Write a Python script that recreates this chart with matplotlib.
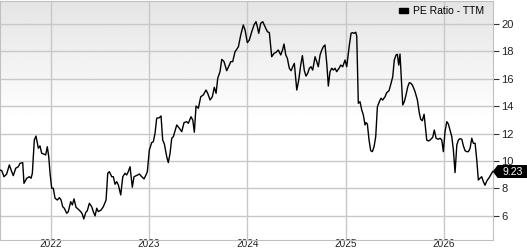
import matplotlib
matplotlib.use("Agg")
import matplotlib.pyplot as plt
import numpy as np
from matplotlib.patches import Patch, Polygon

plt.rcParams['font.family'] = ['Liberation Sans', 'DejaVu Sans']

# decimal year of each reading and the trailing PE ratio
years = [
    2021.484, 2021.502, 2021.525, 2021.552, 2021.579, 2021.603, 2021.619, 2021.644, 2021.670, 2021.688,
    2021.715, 2021.728, 2021.756, 2021.782, 2021.800, 2021.813, 2021.833, 2021.850, 2021.874, 2021.891,
    2021.908, 2021.935, 2021.949, 2021.965, 2021.980, 2021.993, 2022.010, 2022.026, 2022.044, 2022.067,
    2022.088, 2022.105, 2022.122, 2022.138, 2022.163, 2022.179, 2022.203, 2022.220, 2022.237, 2022.257,
    2022.281, 2022.305, 2022.321, 2022.336, 2022.356, 2022.372, 2022.393, 2022.417, 2022.433, 2022.451,
    2022.468, 2022.484, 2022.512, 2022.535, 2022.563, 2022.580, 2022.596, 2022.621, 2022.637, 2022.654,
    2022.671, 2022.688, 2022.712, 2022.733, 2022.756, 2022.773, 2022.789, 2022.807, 2022.830, 2022.847,
    2022.865, 2022.885, 2022.901, 2022.926, 2022.949, 2022.969, 2022.983, 2023.003, 2023.027, 2023.044,
    2023.061, 2023.078, 2023.105, 2023.122, 2023.139, 2023.156, 2023.180, 2023.196, 2023.214, 2023.231,
    2023.247, 2023.282, 2023.308, 2023.333, 2023.356, 2023.383, 2023.400, 2023.427, 2023.445, 2023.461,
    2023.478, 2023.502, 2023.526, 2023.552, 2023.580, 2023.597, 2023.621, 2023.644, 2023.664, 2023.682,
    2023.699, 2023.722, 2023.740, 2023.763, 2023.790, 2023.817, 2023.831, 2023.851, 2023.875, 2023.892,
    2023.909, 2023.933, 2023.959, 2023.977, 2024.000, 2024.020, 2024.045, 2024.068, 2024.088, 2024.102,
    2024.116, 2024.136, 2024.157, 2024.180, 2024.204, 2024.224, 2024.248, 2024.272, 2024.292, 2024.315,
    2024.340, 2024.360, 2024.373, 2024.391, 2024.407, 2024.427, 2024.445, 2024.462, 2024.478, 2024.503,
    2024.523, 2024.543, 2024.560, 2024.580, 2024.597, 2024.614, 2024.631, 2024.648, 2024.665, 2024.689,
    2024.706, 2024.722, 2024.740, 2024.757, 2024.773, 2024.790, 2024.808, 2024.824, 2024.841, 2024.858,
    2024.875, 2024.892, 2024.909, 2024.933, 2024.950, 2024.970, 2024.994, 2025.011, 2025.038, 2025.055,
    2025.068, 2025.085, 2025.103, 2025.113, 2025.129, 2025.146, 2025.164, 2025.180, 2025.197, 2025.207,
    2025.221, 2025.238, 2025.255, 2025.272, 2025.289, 2025.306, 2025.323, 2025.343, 2025.360, 2025.377,
    2025.401, 2025.418, 2025.441, 2025.462, 2025.479, 2025.495, 2025.513, 2025.526, 2025.540, 2025.553,
    2025.571, 2025.581, 2025.597, 2025.614, 2025.632, 2025.648, 2025.665, 2025.683, 2025.706, 2025.730,
    2025.750, 2025.764, 2025.780, 2025.798, 2025.811, 2025.825, 2025.841, 2025.859, 2025.886, 2025.902,
    2025.920, 2025.943, 2025.960, 2025.978, 2025.994, 2026.011, 2026.029, 2026.045, 2026.062, 2026.080,
    2026.096, 2026.113, 2026.131, 2026.147, 2026.164, 2026.182, 2026.198, 2026.215, 2026.232, 2026.249,
    2026.266, 2026.283, 2026.299, 2026.317, 2026.334, 2026.350, 2026.367, 2026.384, 2026.401, 2026.418,
    2026.436, 2026.462, 2026.486, 2026.496,
]
pe = [
    9.34, 9.29, 8.85, 9.05, 9.71, 9.22, 8.93, 9.47, 9.58, 9.83,
    9.88, 8.37, 8.74, 8.85, 8.74, 9.10, 11.53, 11.82, 10.93, 11.10,
    10.56, 10.49, 10.44, 11.04, 10.31, 9.10, 8.01, 8.01, 7.28, 7.15,
    7.32, 7.15, 6.66, 6.55, 6.18, 6.30, 7.03, 6.79, 7.23, 6.62,
    6.47, 6.30, 6.13, 5.77, 6.23, 6.37, 6.91, 6.66, 6.30, 5.99,
    6.55, 6.30, 6.42, 6.66, 7.15, 9.10, 9.22, 8.85, 8.85, 8.30,
    8.49, 8.25, 7.52, 8.85, 9.10, 8.98, 9.22, 9.58, 8.08, 8.85,
    8.91, 8.98, 9.05, 8.85, 8.69, 8.98, 9.22, 10.80, 11.34, 11.41,
    12.02, 13.12, 13.16, 13.29, 11.53, 11.24, 10.31, 9.88, 10.56, 11.66,
    11.77, 12.63, 12.39, 12.14, 12.80, 12.87, 12.75, 13.23, 12.99, 12.10,
    14.01, 13.85, 14.69, 14.82, 15.18, 14.94, 14.45, 14.69, 15.38, 14.94,
    16.04, 16.52, 17.42, 17.25, 16.59, 17.01, 17.25, 17.25, 17.98, 18.15,
    18.34, 19.20, 19.93, 19.56, 18.64, 18.83, 19.44, 19.93, 20.17, 19.80,
    19.32, 20.05, 20.17, 19.80, 19.44, 19.37, 17.61, 17.86, 17.93, 18.10,
    17.74, 18.15, 18.54, 17.74, 17.50, 16.77, 16.59, 16.88, 17.13, 15.18,
    15.91, 17.00, 17.69, 16.59, 16.20, 16.40, 16.77, 16.88, 16.64, 17.61,
    17.25, 16.88, 17.74, 18.10, 18.34, 18.47, 17.13, 15.47, 16.52, 16.77,
    16.64, 16.77, 16.52, 16.77, 17.00, 16.88, 17.37, 16.88, 18.47, 19.32,
    19.37, 19.32, 19.40, 19.12, 14.21, 14.33, 13.72, 13.36, 12.63, 12.80,
    12.70, 11.53, 10.75, 10.68, 11.04, 11.77, 13.96, 14.33, 14.58, 14.45,
    14.69, 14.99, 15.13, 15.67, 16.15, 17.37, 17.74, 17.79, 17.00, 17.81,
    15.42, 14.09, 14.33, 14.82, 15.42, 15.72, 15.67, 15.48, 15.06, 14.45,
    13.48, 13.04, 12.94, 13.41, 12.50, 11.53, 11.46, 11.53, 11.73, 12.26,
    11.66, 11.58, 11.66, 11.53, 10.68, 12.14, 12.87, 12.70, 12.26, 11.77,
    10.80, 9.15, 11.17, 11.53, 11.63, 11.58, 11.10, 10.75, 10.68, 10.68,
    10.93, 11.66, 11.29, 11.29, 10.07, 8.61, 8.74, 8.85, 8.49, 8.23,
    8.54, 8.81, 9.10, 9.23,
]
year_ticks = [2022, 2023, 2024, 2025, 2026]
pe_ticks = [6, 8, 10, 12, 14, 16, 18, 20]
series_name = "PE Ratio - TTM"

fig = plt.figure(figsize=(5.27, 2.5), dpi=100)
ax = fig.add_axes([0, 0.04, 492.7 / 527, 0.956])

# grey-to-white background, fading out by mid height
g = np.ones((200, 1))
g[:100, 0] = np.linspace(0.895, 1.0, 100)
ax.imshow(g, cmap='gray', vmin=0, vmax=1, extent=[0, 1, 0, 1],
          transform=ax.transAxes, aspect='auto', zorder=0)

ax.plot(years, pe, color='black', lw=1.0, zorder=3)

ax.set_xlim(2021.484, 2026.496)
ax.set_ylim(4.23, 21.68)
ax.set_xticks(year_ticks)
ax.set_xticklabels([str(y) for y in year_ticks])
ax.set_yticks(pe_ticks)
ax.yaxis.tick_right()
ax.grid(color='#c8c8c8', lw=1)
ax.set_axisbelow(True)
ax.tick_params(axis='x', length=0, pad=-0.5, labelsize=7.2, labelcolor='#222222')
ax.tick_params(axis='y', length=4, width=0.8, color='#333333', pad=2,
               labelsize=8, labelcolor='#222222')
for s in ax.spines.values():
    s.set_color('#c0c0c0')

ax.legend(handles=[Patch(facecolor='black', edgecolor='black', label=series_name)],
          loc='upper right', bbox_to_anchor=(0.9825, 0.977), frameon=False,
          borderpad=0, borderaxespad=0,
          handlelength=0.9, handleheight=0.35, handletextpad=0.45,
          fontsize=7.5)

# last value marker: black arrow box on the right edge
tx, ty = ax.transData.transform((years[-1], pe[-1]))
pts = np.array([[0, 0], [5, 6.5], [36, 6.5], [36, -6.5], [5, -6.5]]) + [tx, ty]
verts = fig.transFigure.inverted().transform(pts)
fig.patches.append(Polygon(verts, closed=True, facecolor='black', edgecolor='none',
                           transform=fig.transFigure))
lx, ly = fig.transFigure.inverted().transform((tx + 20, ty))
fig.text(lx, ly, f"{pe[-1]:.2f}", color='white', fontsize=7.5,
         ha='center', va='center')

fig.savefig('out.png', dpi=100)
